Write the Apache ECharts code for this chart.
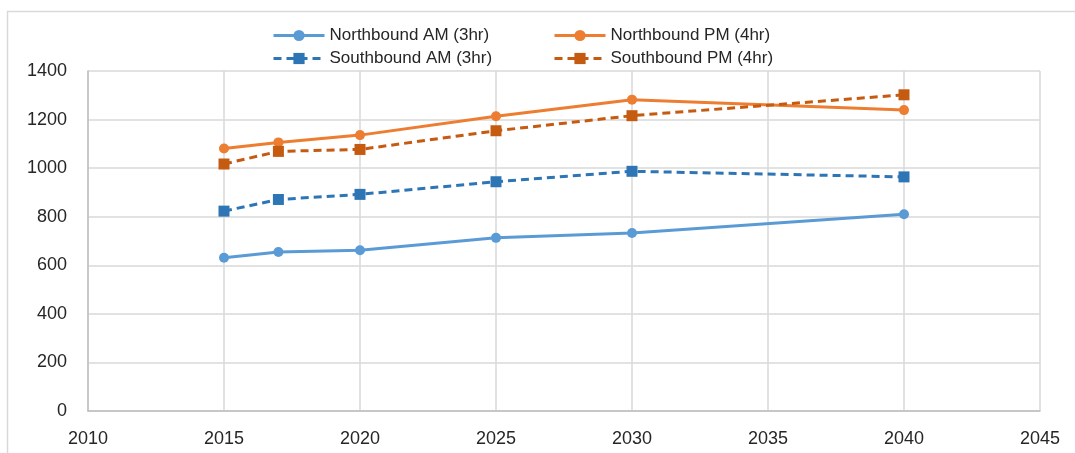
<!DOCTYPE html>
<html>
<head>
<meta charset="utf-8">
<script src="https://cdn.jsdelivr.net/npm/echarts@6/dist/echarts.min.js"></script>
<style>
  html, body { margin: 0; padding: 0; background: #fff; }
  #chart { width: 1075px; height: 453px; }
</style>
</head>
<body>
<div id="chart"></div>
<script>
// Survey years and traffic volumes per direction / peak period
const years = [2015, 2017, 2020, 2025, 2030, 2040];
const northboundAM = [631, 655, 662, 713, 733, 810];
const northboundPM = [1081, 1106, 1136, 1214, 1282, 1239];
const southboundAM = [823, 871, 892, 944, 987, 964];
const southboundPM = [1017, 1069, 1077, 1154, 1216, 1302];

const seriesNames = [
  'Northbound AM (3hr)', 'Northbound PM (4hr)',
  'Southbound AM (3hr)', 'Southbound PM (4hr)'
];

const pair = vals => years.map((y, i) => [y, vals[i]]);
const FONT = '"Liberation Sans", Arial, sans-serif';

function makeSeries(name, vals, color, dashed) {
  return {
    name: name,
    type: 'line',
    data: pair(vals),
    symbol: dashed ? 'rect' : 'circle',
    symbolSize: dashed ? 11 : 10,
    itemStyle: { color: color },
    lineStyle: { color: color, width: 3, type: dashed ? [8, 5] : 'solid' },
    emphasis: { disabled: true },
    z: 3
  };
}

const chart = echarts.init(document.getElementById('chart'), null, { renderer: 'canvas' });

const legendCommon = {
  orient: 'vertical',
  top: 22,
  itemWidth: 51,
  itemHeight: 14,
  itemGap: 6,
  lineStyle: { width: 3 },
  textStyle: { fontFamily: FONT, fontSize: 17, color: '#262626' }
};

chart.setOption({
  animation: false,
  backgroundColor: '#fff',
  graphic: [{
    type: 'rect',
    shape: { x: 7.5, y: 11.5, width: 1100, height: 500 },
    style: { fill: 'none', stroke: '#d9d9d9', lineWidth: 1.5 },
    silent: true
  }],
  legend: [
    Object.assign({}, legendCommon, { left: 267, data: [seriesNames[0], seriesNames[2]] }),
    Object.assign({}, legendCommon, { left: 548, data: [seriesNames[1], seriesNames[3]] })
  ],
  grid: { left: 88, right: 35, top: 71, bottom: 42 },
  xAxis: {
    type: 'value',
    min: 2010, max: 2045, interval: 5,
    axisLine: { show: true, onZero: false, lineStyle: { color: '#bfbfbf', width: 1.5 } },
    axisTick: { show: false },
    splitLine: { show: true, lineStyle: { color: '#d9d9d9', width: 1.5 } },
    axisLabel: {
      formatter: v => String(v),
      margin: 19,
      fontFamily: FONT, fontSize: 18, color: '#262626'
    }
  },
  yAxis: {
    type: 'value',
    min: 0, max: 1400, interval: 200,
    axisLine: { show: true, lineStyle: { color: '#bfbfbf', width: 1.5 } },
    axisTick: { show: false },
    splitLine: { show: true, lineStyle: { color: '#d9d9d9', width: 1.5 } },
    axisLabel: {
      formatter: v => String(v),
      margin: 21,
      fontFamily: FONT, fontSize: 18, color: '#262626'
    }
  },
  series: [
    makeSeries(seriesNames[0], northboundAM, '#5b9bd5', false),
    makeSeries(seriesNames[1], northboundPM, '#ed7d31', false),
    makeSeries(seriesNames[2], southboundAM, '#2e75b6', true),
    makeSeries(seriesNames[3], southboundPM, '#c55a11', true)
  ]
});
</script>
</body>
</html>
